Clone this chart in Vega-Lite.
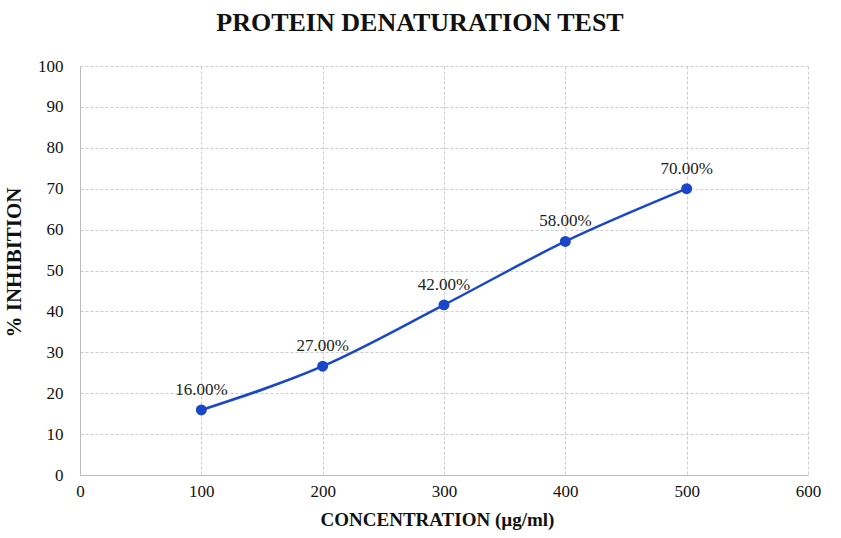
{
  "$schema": "https://vega.github.io/schema/vega-lite/v6.json",
  "width": 728,
  "height": 409,
  "autosize": {"type": "none"},
  "padding": {"left": 80, "top": 66, "right": 33, "bottom": 63},
  "background": "white",
  "title": {
    "text": "PROTEIN DENATURATION TEST",
    "font": "Liberation Serif",
    "fontSize": 26,
    "fontWeight": "bold",
    "color": "#111111",
    "anchor": "middle",
    "dx": -24,
    "offset": 21
  },
  "data": {
    "values": [
      {"conc": 100, "inhibition": 15.9, "label": "16.00%"},
      {"conc": 200, "inhibition": 26.6, "label": "27.00%"},
      {"conc": 300, "inhibition": 41.6, "label": "42.00%"},
      {"conc": 400, "inhibition": 57.1, "label": "58.00%"},
      {"conc": 500, "inhibition": 70.0, "label": "70.00%"}
    ]
  },
  "config": {
    "view": {"stroke": null},
    "axis": {
      "labelFont": "Liberation Serif",
      "labelFontSize": 17,
      "labelColor": "#111111",
      "labelFlush": false,
      "labelOverlap": false,
      "titleFont": "Liberation Serif",
      "titleFontWeight": "bold",
      "titleColor": "#111111",
      "gridColor": "#cccccc",
      "gridDash": [3, 2],
      "gridWidth": 1,
      "domainColor": "#bbbbbb",
      "ticks": false
    }
  },
  "encoding": {
    "x": {
      "field": "conc",
      "type": "quantitative",
      "scale": {"domain": [0, 600], "nice": false},
      "axis": {"title": "CONCENTRATION (µg/ml)", "titleFontSize": 19, "titleX": 357, "titleY": 50, "titleBaseline": "alphabetic", "values": [0, 100, 200, 300, 400, 500, 600], "labelPadding": 8}
    },
    "y": {
      "field": "inhibition",
      "type": "quantitative",
      "scale": {"domain": [0, 100], "nice": false},
      "axis": {"title": "% INHIBITION", "titleFontSize": 21, "titleY": 196, "values": [0, 10, 20, 30, 40, 50, 60, 70, 80, 90, 100], "labelPadding": 17, "titlePadding": 13}
    }
  },
  "layer": [
    {
      "mark": {"type": "line", "color": "#1a47c9", "strokeWidth": 2.5, "interpolate": "monotone"}
    },
    {
      "mark": {"type": "point", "filled": true, "opacity": 1, "color": "#1a47c9", "size": 120}
    },
    {
      "mark": {"type": "text", "font": "Liberation Serif", "fontSize": 17, "color": "#222222", "dy": -20},
      "encoding": {"text": {"field": "label"}}
    }
  ]
}
